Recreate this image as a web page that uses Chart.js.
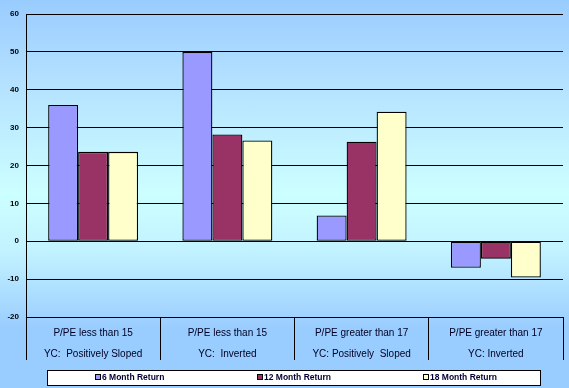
<!DOCTYPE html>
<html>
<head>
<meta charset="utf-8">
<script src="https://cdn.jsdelivr.net/npm/chart.js@4.4.1/dist/chart.umd.min.js"></script>
<style>
  html, body { margin: 0; padding: 0; }
  #wrap {
    width: 569px; height: 388px; position: relative;
    background: linear-gradient(to bottom, #99ccff 0%, #b3e0ff 20%, #ccffff 50%, #c2f2ff 65%, #99ccff 85%, #99ccff 100%);
  }
  canvas { display: block; }
</style>
</head>
<body>
<div id="wrap"><canvas id="c" width="569" height="388"></canvas></div>
<script>
const categories = [
  ["P/PE less than 15", "YC:  Positively Sloped"],
  ["P/PE less than 15", "YC:  Inverted"],
  ["P/PE greater than 17", "YC: Positively  Sloped"],
  ["P/PE greater than 17", "YC: Inverted"]
];
const seriesNames = ["6 Month Return", "12 Month Return", "18 Month Return"];
const sixMonth = [36.0, 50.0, 6.8, -7.0];
const twelveMonth = [23.6, 28.2, 26.3, -4.6];
const eighteenMonth = [23.6, 26.6, 34.2, -9.6];
const yMin = -20, yMax = 60, yStep = 10;

const colors = ["#9999ff", "#993366", "#ffffcc"];

const legendPlugin = {
  id: 'boxLegend',
  afterDraw(chart) {
    const ctx = chart.ctx;
    const bx = 47.5, by = 370.5, bw = 493, bh = 15;
    ctx.save();
    ctx.fillStyle = '#ffffff';
    ctx.fillRect(bx, by, bw, bh);
    ctx.strokeStyle = '#000000';
    ctx.lineWidth = 1;
    ctx.strokeRect(bx, by, bw, bh);
    const starts = [95, 257, 423];
    ctx.font = 'bold 8.5px "Liberation Sans", Arial, sans-serif';
    ctx.textBaseline = 'middle';
    chart.data.datasets.forEach((ds, i) => {
      const x = starts[i];
      ctx.fillStyle = ds.backgroundColor;
      ctx.fillRect(x + 0.5, 374.5, 5, 5);
      ctx.strokeRect(x + 0.5, 374.5, 5, 5);
      ctx.fillStyle = '#000033';
      ctx.fillText(ds.label, x + 7, 377.5);
    });
    ctx.restore();
  }
};

new Chart(document.getElementById('c'), {
  type: 'bar',
  data: {
    labels: categories,
    datasets: [
      { label: seriesNames[0], data: sixMonth, backgroundColor: colors[0] },
      { label: seriesNames[1], data: twelveMonth, backgroundColor: colors[1] },
      { label: seriesNames[2], data: eighteenMonth, backgroundColor: colors[2] }
    ].map(d => Object.assign(d, {
      borderColor: '#000000', borderWidth: 1.3,
      categoryPercentage: 0.67, barPercentage: 1.0, borderSkipped: false
    }))
  },
  options: {
    responsive: false,
    animation: false,
    devicePixelRatio: 1,
    layout: { padding: { top: 14, right: 6, bottom: 0, left: 0 } },
    plugins: { legend: { display: false }, tooltip: { enabled: false } },
    scales: {
      x: {
        grid: {
          offset: true, drawOnChartArea: false, drawTicks: true,
          tickLength: 43, color: '#000000', lineWidth: 1
        },
        border: { display: true, color: '#000000', width: 1 },
        ticks: {
          padding: -37.5, maxRotation: 0, autoSkip: false,
          color: '#000022',
          font: { family: '"Liberation Sans", Arial, sans-serif', size: 10, lineHeight: 2.1 }
        },
        afterFit(scale) { scale.height = 71; }
      },
      y: {
        min: yMin, max: yMax,
        ticks: {
          stepSize: yStep, padding: 7, color: '#000000',
          font: { family: '"Liberation Sans", Arial, sans-serif', size: 8, weight: 'bold' }
        },
        grid: { color: '#000000', lineWidth: 1, drawTicks: false },
        border: { display: true, color: '#000000', width: 1 },
        afterFit(scale) { scale.width = 26; }
      }
    }
  },
  plugins: [legendPlugin]
});
</script>
</body>
</html>
